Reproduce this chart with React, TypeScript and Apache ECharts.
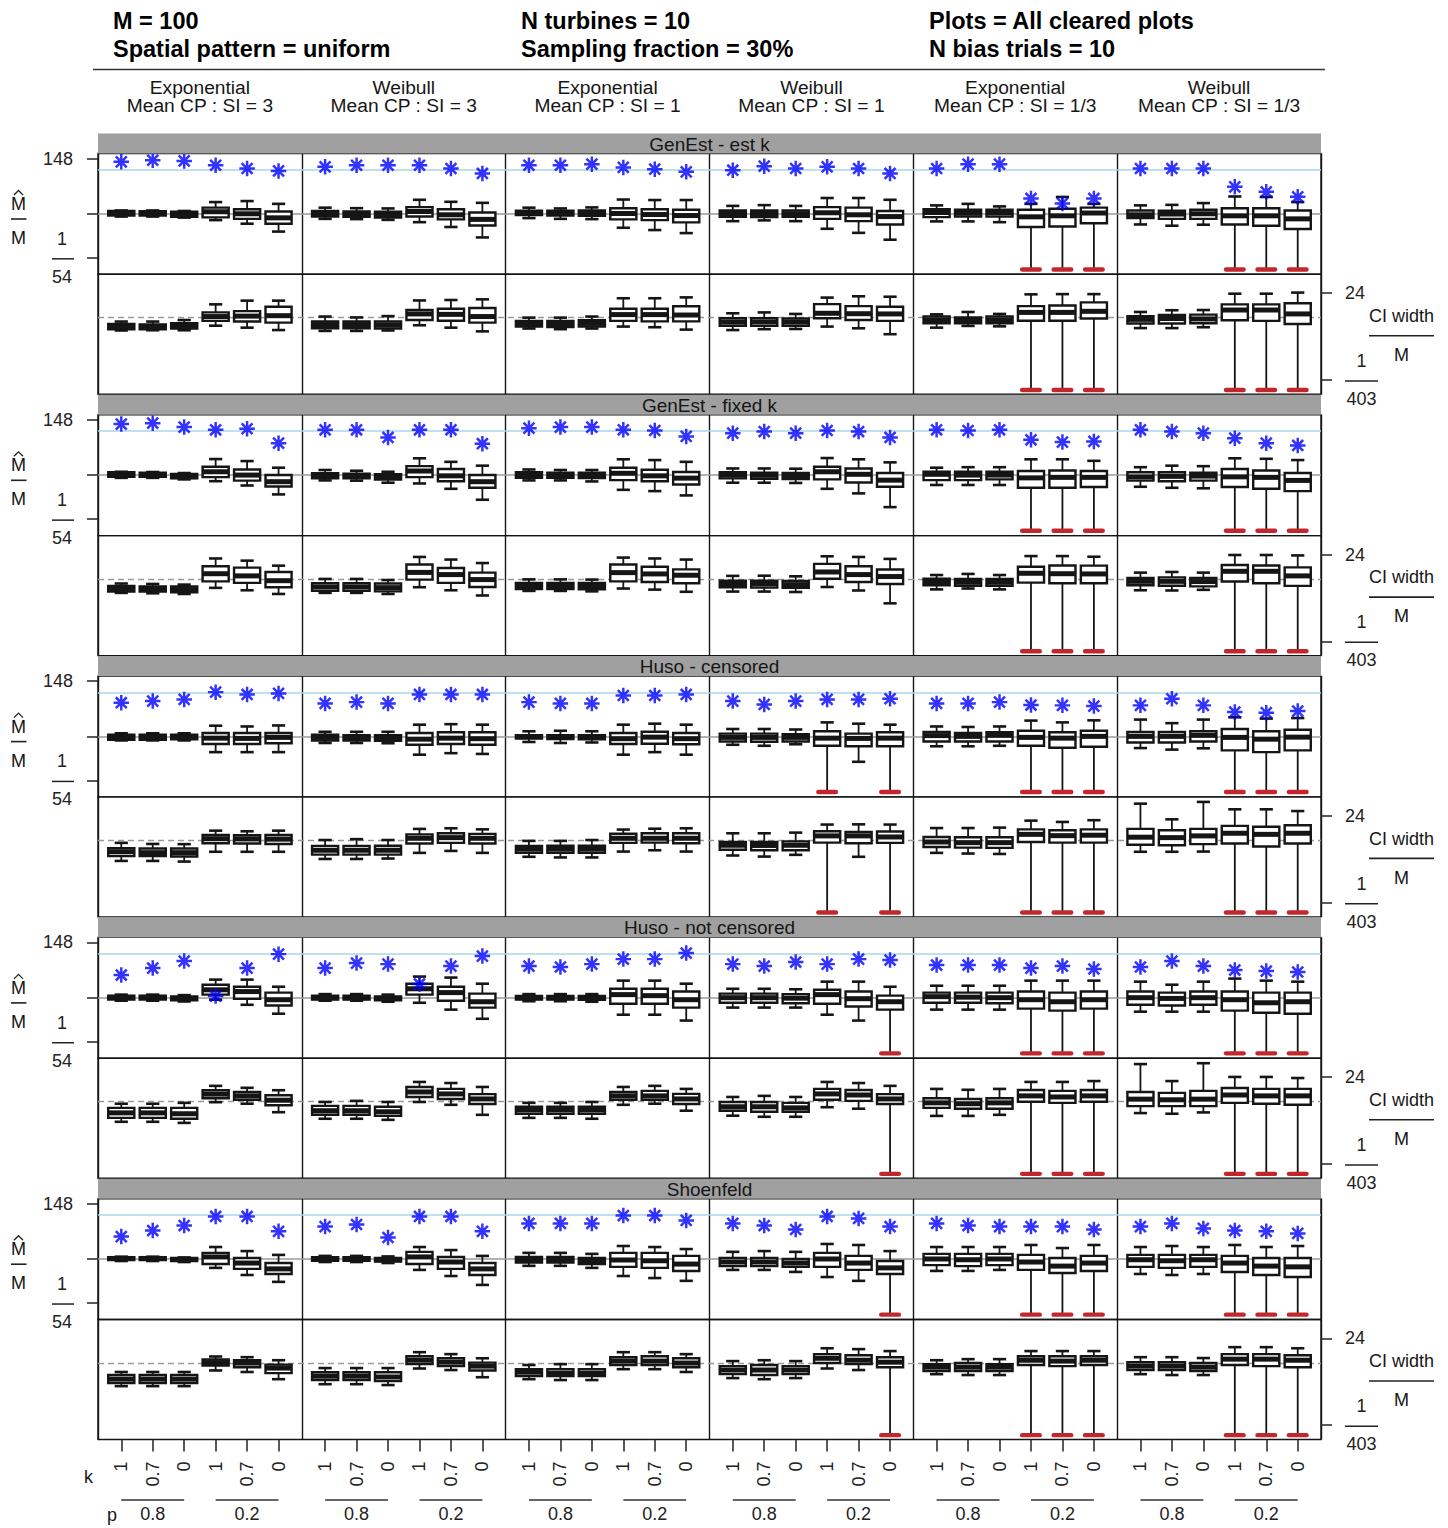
import React, { useEffect, useRef } from "react";
import * as echarts from "echarts";

const FONT = '"Liberation Sans", Arial, Helvetica, sans-serif';

// ---------- texts ----------
const headerLines = [
  ["M = 100", "Spatial pattern = uniform"],
  ["N turbines = 10", "Sampling fraction = 30%"],
  ["Plots = All cleared plots", "N bias trials = 10"],
];
const methods = ["GenEst - est k", "GenEst - fixed k", "Huso - censored", "Huso - not censored", "Shoenfeld"];
const distributions = ["Exponential", "Weibull", "Exponential", "Weibull", "Exponential", "Weibull"];
const meanCpSi = ["3", "3", "1", "1", "1/3", "1/3"];
const kValues = ["1", "0.7", "0"];
const pValues = ["0.8", "0.2"];

// ---------- axis ticks ----------
const mhatTickHigh = 148;
const mhatTickLowDen = 54;
const ciTickHigh = 24;
const ciTickLowDen = 403;
const coverageTarget = 0.9;
const ciReferenceLog = 0.26;

// ---------- data: boxes [low, q1, median, q3, high] in log10 units; null low = estimate of 0 ----------
const mhatEstK = [
  [[-0.11,-0.07,0.03,0.11,0.13],[-0.11,-0.07,0.02,0.10,0.13],[-0.15,-0.12,-0.03,0.08,0.11],[-0.25,-0.14,0.08,0.24,0.46],[-0.39,-0.20,0,0.18,0.50],[-0.70,-0.39,-0.16,0.09,0.39]],
  [[-0.20,-0.11,0,0.11,0.24],[-0.21,-0.12,-0.01,0.09,0.22],[-0.24,-0.15,-0.04,0.08,0.21],[-0.33,-0.11,0.09,0.26,0.55],[-0.52,-0.22,-0.04,0.18,0.47],[-0.93,-0.46,-0.22,0.05,0.43]],
  [[-0.17,-0.05,0.04,0.12,0.24],[-0.20,-0.07,0.04,0.12,0.21],[-0.21,-0.08,0.04,0.13,0.25],[-0.55,-0.22,0.01,0.22,0.56],[-0.64,-0.25,-0.03,0.18,0.54],[-0.76,-0.34,-0.07,0.16,0.54]],
  [[-0.29,-0.12,0.01,0.13,0.31],[-0.26,-0.13,0.01,0.13,0.34],[-0.29,-0.12,0,0.13,0.31],[-0.59,-0.20,0.04,0.26,0.62],[-0.75,-0.29,-0.04,0.24,0.62],[-1.02,-0.42,-0.11,0.11,0.55]],
  [[-0.30,-0.13,0.05,0.18,0.33],[-0.30,-0.11,0.03,0.16,0.39],[-0.33,-0.11,0.05,0.16,0.29],[null,-0.52,-0.12,0.16,0.39],[null,-0.50,-0.08,0.20,0.66],[null,-0.37,0.03,0.24,0.39]],
  [[-0.42,-0.17,-0.04,0.13,0.33],[-0.47,-0.20,-0.01,0.12,0.35],[-0.43,-0.20,0,0.16,0.42],[null,-0.42,-0.08,0.22,0.68],[null,-0.47,-0.08,0.22,0.66],[null,-0.60,-0.20,0.13,0.46]],
];
const ciEstK = [
  [[-0.33,-0.27,-0.15,-0.03,0.08],[-0.32,-0.27,-0.17,-0.05,0.08],[-0.32,-0.24,-0.12,0,0.15],[-0.11,0.11,0.31,0.50,0.87],[-0.20,0.08,0.33,0.56,1.04],[-0.31,0.03,0.35,0.76,1.04]],
  [[-0.35,-0.23,-0.06,0.08,0.31],[-0.35,-0.23,-0.06,0.08,0.27],[-0.33,-0.24,-0.08,0.08,0.33],[-0.09,0.15,0.43,0.61,1.05],[-0.20,0.12,0.41,0.67,1.07],[-0.37,0.03,0.31,0.70,1.10]],
  [[-0.24,-0.15,-0.01,0.11,0.26],[-0.27,-0.17,-0.01,0.11,0.26],[-0.24,-0.15,0,0.14,0.31],[-0.15,0.11,0.40,0.67,1.15],[-0.18,0.09,0.40,0.67,1.15],[-0.29,0.09,0.38,0.78,1.19]],
  [[-0.31,-0.11,0.06,0.23,0.46],[-0.27,-0.12,0.06,0.23,0.50],[-0.26,-0.11,0.06,0.22,0.43],[-0.15,0.23,0.46,0.88,1.18],[-0.23,0.15,0.44,0.79,1.24],[-0.50,0.11,0.43,0.76,1.22]],
  [[-0.20,0,0.15,0.31,0.41],[-0.12,0,0.14,0.27,0.52],[-0.14,0,0.15,0.31,0.43],[null,0.12,0.50,0.79,1.33],[null,0.12,0.50,0.82,1.34],[null,0.22,0.55,0.96,1.34]],
  [[-0.22,-0.01,0.18,0.33,0.52],[-0.22,-0.01,0.22,0.38,0.60],[-0.18,0,0.20,0.40,0.61],[null,0.14,0.61,0.87,1.36],[null,0.11,0.61,0.87,1.36],[null,-0.03,0.43,0.92,1.41]],
];
const covEstK = [
  [0.968,0.982,0.976,0.939,0.911,0.890],[0.925,0.939,0.939,0.939,0.911,0.868],[0.939,0.939,0.948,0.920,0.905,0.882],
  [0.896,0.931,0.911,0.925,0.911,0.868],[0.911,0.948,0.948,0.653,0.610,0.653],[0.911,0.911,0.911,0.753,0.710,0.667],
];

const mhatFixK = [
  [[-0.11,-0.07,0.03,0.11,0.13],[-0.11,-0.07,0.02,0.09,0.12],[-0.17,-0.13,-0.06,0.04,0.08],[-0.24,-0.08,0.13,0.33,0.63],[-0.41,-0.22,0,0.22,0.55],[-0.76,-0.45,-0.26,0,0.29]],
  [[-0.21,-0.13,-0.03,0.07,0.20],[-0.22,-0.13,-0.04,0.05,0.17],[-0.30,-0.18,-0.09,0.03,0.13],[-0.33,-0.08,0.16,0.35,0.66],[-0.54,-0.24,-0.03,0.24,0.52],[-0.97,-0.50,-0.26,0,0.37]],
  [[-0.21,-0.11,0,0.11,0.22],[-0.21,-0.11,0,0.09,0.20],[-0.25,-0.12,-0.01,0.09,0.20],[-0.58,-0.20,0.07,0.29,0.62],[-0.63,-0.24,-0.03,0.21,0.59],[-0.80,-0.37,-0.12,0.12,0.52]],
  [[-0.30,-0.13,0,0.11,0.26],[-0.30,-0.15,-0.01,0.09,0.26],[-0.31,-0.16,-0.03,0.08,0.25],[-0.54,-0.17,0.13,0.33,0.67],[-0.72,-0.29,0.03,0.26,0.62],[-1.26,-0.46,-0.20,0.08,0.50]],
  [[-0.39,-0.20,0.03,0.13,0.29],[-0.39,-0.20,0,0.13,0.31],[-0.39,-0.17,0,0.13,0.31],[null,-0.50,-0.11,0.16,0.62],[null,-0.50,-0.09,0.18,0.62],[null,-0.47,-0.09,0.16,0.56]],
  [[-0.46,-0.22,-0.07,0.11,0.31],[-0.50,-0.24,-0.05,0.11,0.37],[-0.52,-0.22,-0.04,0.09,0.35],[null,-0.47,-0.07,0.24,0.66],[null,-0.54,-0.09,0.18,0.64],[null,-0.63,-0.21,0.08,0.59]],
];
const ciFixK = [
  [[-0.38,-0.32,-0.20,-0.06,0.05],[-0.40,-0.32,-0.20,-0.08,0.03],[-0.43,-0.35,-0.23,-0.09,0],[-0.15,0.15,0.50,0.84,1.20],[-0.26,0.08,0.40,0.78,1.10],[-0.43,-0.12,0.18,0.58,0.87]],
  [[-0.38,-0.29,-0.11,0.06,0.26],[-0.38,-0.29,-0.11,0.06,0.26],[-0.43,-0.31,-0.14,0.05,0.21],[-0.12,0.23,0.56,0.92,1.27],[-0.26,0.08,0.46,0.76,1.15],[-0.50,-0.11,0.23,0.55,0.99]],
  [[-0.29,-0.20,-0.06,0.08,0.24],[-0.29,-0.20,-0.06,0.08,0.24],[-0.31,-0.21,-0.08,0.08,0.23],[-0.18,0.15,0.55,0.92,1.24],[-0.23,0.12,0.49,0.82,1.20],[-0.33,0.06,0.43,0.70,1.15]],
  [[-0.32,-0.12,0.03,0.18,0.40],[-0.32,-0.14,0.03,0.18,0.41],[-0.34,-0.15,0,0.17,0.38],[-0.11,0.27,0.58,0.95,1.30],[-0.27,0.12,0.46,0.84,1.27],[-0.86,0.03,0.37,0.69,1.18]],
  [[-0.22,-0.03,0.12,0.27,0.44],[-0.18,-0.05,0.11,0.26,0.49],[-0.22,-0.05,0.11,0.26,0.44],[null,0.09,0.52,0.82,1.31],[null,0.06,0.50,0.88,1.31],[null,0.06,0.49,0.87,1.28]],
  [[-0.26,-0.03,0.15,0.31,0.55],[-0.27,-0.05,0.15,0.33,0.58],[-0.24,-0.08,0.14,0.31,0.55],[null,0.14,0.61,0.90,1.36],[null,0.06,0.61,0.88,1.36],[null,-0.06,0.40,0.79,1.34]],
];
const covFixK = [
  [0.960,0.968,0.934,0.911,0.920,0.796],[0.911,0.911,0.845,0.911,0.911,0.791],[0.925,0.934,0.934,0.911,0.905,0.854],
  [0.882,0.896,0.882,0.905,0.896,0.845],[0.911,0.905,0.911,0.825,0.805,0.811],[0.911,0.896,0.882,0.839,0.796,0.776],
];

const mhatCens = [
  [[-0.16,-0.13,-0.04,0.07,0.12],[-0.16,-0.13,-0.04,0.07,0.12],[-0.16,-0.12,-0.03,0.07,0.12],[-0.62,-0.30,-0.07,0.13,0.42],[-0.62,-0.30,-0.08,0.13,0.39],[-0.62,-0.27,-0.04,0.13,0.43]],
  [[-0.26,-0.16,-0.04,0.07,0.18],[-0.26,-0.16,-0.05,0.05,0.18],[-0.27,-0.17,-0.05,0.05,0.18],[-0.72,-0.33,-0.11,0.13,0.46],[-0.66,-0.30,-0.07,0.16,0.48],[-0.69,-0.33,-0.09,0.16,0.46]],
  [[-0.22,-0.09,-0.01,0.05,0.20],[-0.26,-0.11,-0.03,0.05,0.22],[-0.24,-0.12,-0.03,0.05,0.20],[-0.72,-0.30,-0.09,0.13,0.46],[-0.62,-0.29,-0.03,0.18,0.50],[-0.72,-0.31,-0.09,0.13,0.46]],
  [[-0.33,-0.20,-0.04,0.11,0.29],[-0.37,-0.21,-0.04,0.11,0.29],[-0.31,-0.20,-0.04,0.09,0.27],[null,-0.37,-0.07,0.20,0.55],[-1.00,-0.39,-0.08,0.11,0.50],[null,-0.39,-0.07,0.16,0.46]],
  [[-0.39,-0.20,0.03,0.17,0.39],[-0.39,-0.20,0,0.13,0.37],[-0.37,-0.20,0.04,0.16,0.39],[null,-0.37,-0.04,0.22,0.62],[null,-0.45,-0.07,0.16,0.55],[null,-0.41,0,0.22,0.63]],
  [[-0.46,-0.24,0,0.17,0.66],[-0.52,-0.24,0,0.17,0.52],[-0.47,-0.20,0.04,0.20,0.66],[null,-0.55,-0.04,0.29,0.75],[null,-0.62,-0.11,0.20,0.70],[null,-0.55,-0.03,0.26,0.72]],
];
const ciCens = [
  [[-0.69,-0.47,-0.27,-0.11,0.14],[-0.69,-0.47,-0.31,-0.12,0.09],[-0.72,-0.49,-0.31,-0.12,0.08],[-0.27,0.12,0.33,0.50,0.70],[-0.27,0.11,0.32,0.49,0.67],[-0.27,0.09,0.31,0.50,0.70]],
  [[-0.60,-0.40,-0.20,0,0.27],[-0.60,-0.40,-0.20,0,0.31],[-0.58,-0.40,-0.20,0.01,0.27],[-0.32,0.11,0.35,0.53,0.78],[-0.23,0.14,0.38,0.58,0.81],[-0.32,0.11,0.35,0.55,0.76]],
  [[-0.50,-0.32,-0.15,0,0.23],[-0.53,-0.32,-0.15,0.01,0.23],[-0.53,-0.32,-0.15,0.01,0.27],[-0.26,0.14,0.35,0.56,0.75],[-0.20,0.15,0.35,0.58,0.79],[-0.26,0.12,0.35,0.58,0.81]],
  [[-0.44,-0.18,0.03,0.18,0.58],[-0.49,-0.20,0.02,0.18,0.58],[-0.41,-0.20,0.03,0.21,0.61],[null,0.15,0.46,0.67,0.98],[-0.50,0.12,0.46,0.64,0.99],[null,0.14,0.41,0.66,0.98]],
  [[-0.32,-0.05,0.18,0.41,0.82],[-0.35,-0.08,0.15,0.40,0.82],[-0.37,-0.09,0.15,0.40,0.84],[null,0.18,0.53,0.76,1.16],[null,0.15,0.47,0.72,1.10],[null,0.15,0.49,0.76,1.18]],
  [[-0.27,0.05,0.40,0.78,1.94],[-0.27,0.03,0.38,0.72,1.22],[-0.26,0.08,0.46,0.78,2.02],[null,0.11,0.58,0.92,1.68],[null,-0.03,0.53,0.88,1.68],[null,0.11,0.58,0.95,1.60]],
];
const covCens = [
  [0.811,0.825,0.839,0.902,0.882,0.891],[0.805,0.816,0.805,0.882,0.882,0.882],[0.816,0.805,0.805,0.873,0.873,0.882],
  [0.825,0.796,0.825,0.839,0.839,0.845],[0.805,0.805,0.816,0.791,0.788,0.782],[0.788,0.845,0.788,0.730,0.725,0.739],
];

const mhatNoCens = [
  [[-0.12,-0.07,0.01,0.08,0.12],[-0.12,-0.07,0.01,0.08,0.12],[-0.15,-0.10,-0.03,0.05,0.10],[-0.08,0.12,0.31,0.51,0.71],[-0.28,-0.04,0.24,0.43,0.71],[-0.63,-0.31,-0.08,0.20,0.43]],
  [[-0.12,-0.07,0,0.08,0.14],[-0.12,-0.07,0,0.08,0.14],[-0.16,-0.10,-0.03,0.05,0.12],[-0.20,0.12,0.35,0.55,0.83],[-0.47,-0.12,0.20,0.43,0.79],[-0.83,-0.39,-0.16,0.16,0.55]],
  [[-0.14,-0.07,0,0.07,0.14],[-0.14,-0.07,0,0.07,0.14],[-0.16,-0.08,-0.01,0.07,0.14],[-0.67,-0.24,0.12,0.35,0.67],[-0.67,-0.24,0.08,0.35,0.67],[-0.90,-0.39,-0.08,0.24,0.55]],
  [[-0.39,-0.20,0,0.16,0.35],[-0.39,-0.20,0,0.16,0.35],[-0.39,-0.22,-0.02,0.14,0.33],[-0.67,-0.24,0.12,0.31,0.63],[-0.90,-0.35,-0.04,0.24,0.63],[null,-0.47,-0.16,0.08,0.43]],
  [[-0.47,-0.20,0.04,0.20,0.47],[-0.47,-0.20,0.02,0.20,0.47],[-0.47,-0.22,0,0.20,0.47],[null,-0.43,-0.08,0.24,0.67],[null,-0.51,-0.16,0.20,0.67],[null,-0.43,-0.08,0.24,0.67]],
  [[-0.55,-0.28,0,0.24,0.63],[-0.55,-0.31,-0.03,0.20,0.51],[-0.55,-0.28,0,0.24,0.63],[null,-0.51,-0.08,0.24,0.75],[null,-0.59,-0.20,0.20,0.67],[null,-0.63,-0.16,0.20,0.63]],
];
const ciNoCens = [
  [[-0.67,-0.49,-0.26,-0.03,0.16],[-0.67,-0.49,-0.26,-0.03,0.16],[-0.72,-0.53,-0.30,-0.03,0.20],[0.23,0.41,0.60,0.78,0.98],[0.16,0.34,0.52,0.70,0.89],[-0.23,0.09,0.32,0.55,0.78]],
  [[-0.53,-0.35,-0.16,0.06,0.24],[-0.53,-0.35,-0.16,0.06,0.29],[-0.58,-0.40,-0.21,0.02,0.24],[0.24,0.47,0.70,0.93,1.16],[0.11,0.38,0.61,0.84,1.11],[-0.35,0.15,0.38,0.60,0.93]],
  [[-0.49,-0.30,-0.12,0.02,0.20],[-0.49,-0.30,-0.12,0.02,0.20],[-0.53,-0.30,-0.12,0.02,0.24],[0.11,0.34,0.52,0.70,0.93],[0.16,0.34,0.52,0.75,0.98],[-0.16,0.15,0.38,0.61,0.84]],
  [[-0.39,-0.16,0.02,0.24,0.47],[-0.44,-0.21,0.02,0.24,0.52],[-0.44,-0.21,-0.03,0.20,0.47],[0,0.34,0.61,0.84,1.16],[-0.07,0.29,0.56,0.79,1.11],[null,0.15,0.38,0.60,0.98]],
  [[-0.40,-0.03,0.20,0.41,0.84],[-0.40,-0.07,0.16,0.38,0.80],[-0.35,-0.07,0.20,0.41,0.84],[null,0.25,0.52,0.79,1.16],[null,0.20,0.47,0.75,1.16],[null,0.25,0.52,0.79,1.20]],
  [[-0.27,0.05,0.37,0.70,1.98],[-0.30,0.05,0.34,0.66,1.20],[-0.24,0.05,0.37,0.75,2.02],[null,0.20,0.56,0.88,1.39],[null,0.16,0.52,0.84,1.39],[null,0.11,0.52,0.84,1.34]],
];
const covNoCens = [
  [0.716,0.776,0.836,0.535,0.776,0.896],[0.776,0.819,0.810,0.639,0.793,0.879],[0.793,0.785,0.810,0.853,0.853,0.905],
  [0.810,0.793,0.828,0.810,0.853,0.845],[0.802,0.802,0.802,0.776,0.793,0.768],[0.785,0.836,0.793,0.759,0.750,0.742],
];

const mhatShoen = [
  [[-0.08,-0.04,0.02,0.07,0.09],[-0.08,-0.04,0.02,0.07,0.09],[-0.12,-0.08,-0.02,0.04,0.06],[-0.35,-0.20,0.08,0.24,0.47],[-0.63,-0.39,-0.16,0.04,0.31],[-0.90,-0.59,-0.39,-0.16,0.16]],
  [[-0.12,-0.07,0,0.07,0.12],[-0.12,-0.07,0,0.07,0.12],[-0.16,-0.10,-0.03,0.04,0.10],[-0.43,-0.20,0.08,0.28,0.47],[-0.67,-0.39,-0.12,0.08,0.35],[-1.02,-0.63,-0.39,-0.16,0.12]],
  [[-0.27,-0.14,-0.03,0.08,0.24],[-0.27,-0.14,-0.03,0.08,0.24],[-0.35,-0.20,-0.07,0.04,0.20],[-0.67,-0.31,-0.04,0.24,0.51],[-0.75,-0.35,-0.07,0.24,0.47],[-0.86,-0.47,-0.20,0.12,0.39]],
  [[-0.43,-0.28,-0.12,0.04,0.28],[-0.43,-0.28,-0.12,0.04,0.31],[-0.51,-0.31,-0.16,0,0.28],[-0.71,-0.31,0,0.24,0.59],[-0.86,-0.43,-0.16,0.12,0.55],[null,-0.59,-0.35,-0.08,0.31]],
  [[-0.47,-0.24,0,0.20,0.47],[-0.47,-0.28,-0.03,0.20,0.47],[-0.43,-0.24,0,0.20,0.47],[null,-0.43,-0.12,0.16,0.55],[null,-0.55,-0.28,0.04,0.43],[null,-0.47,-0.16,0.12,0.55]],
  [[-0.59,-0.31,-0.03,0.16,0.47],[-0.63,-0.35,-0.07,0.16,0.51],[-0.59,-0.31,-0.03,0.16,0.47],[null,-0.51,-0.16,0.12,0.55],[null,-0.63,-0.28,0.04,0.47],[null,-0.71,-0.31,0.04,0.51]],
];
const ciShoen = [
  [[-0.81,-0.67,-0.49,-0.30,-0.16],[-0.81,-0.67,-0.49,-0.30,-0.16],[-0.81,-0.67,-0.49,-0.30,-0.16],[-0.09,0.14,0.27,0.41,0.55],[-0.16,0.06,0.25,0.38,0.52],[-0.49,-0.21,0.02,0.18,0.38]],
  [[-0.72,-0.53,-0.35,-0.17,0.02],[-0.72,-0.53,-0.35,-0.17,0.02],[-0.76,-0.58,-0.39,-0.17,0.02],[0,0.20,0.38,0.56,0.75],[-0.07,0.11,0.29,0.47,0.66],[-0.40,-0.09,0.11,0.27,0.47]],
  [[-0.49,-0.35,-0.17,-0.03,0.16],[-0.53,-0.35,-0.21,-0.03,0.20],[-0.53,-0.35,-0.21,-0.03,0.20],[-0.03,0.16,0.34,0.52,0.75],[-0.03,0.16,0.34,0.56,0.75],[-0.16,0.06,0.25,0.47,0.66]],
  [[-0.44,-0.26,-0.07,0.11,0.34],[-0.49,-0.30,-0.07,0.16,0.38],[-0.44,-0.26,-0.07,0.11,0.34],[0,0.25,0.47,0.66,0.93],[-0.07,0.20,0.38,0.61,0.89],[null,0.06,0.29,0.52,0.80]],
  [[-0.26,-0.12,0.06,0.20,0.38],[-0.30,-0.12,0.06,0.25,0.43],[-0.30,-0.12,0.06,0.20,0.43],[null,0.16,0.38,0.56,0.80],[null,0.11,0.34,0.56,0.80],[null,0.16,0.38,0.56,0.80]],
  [[-0.26,-0.07,0.11,0.29,0.52],[-0.30,-0.07,0.11,0.29,0.52],[-0.30,-0.12,0.06,0.25,0.48],[null,0.16,0.43,0.66,0.98],[null,0.11,0.43,0.66,0.98],[null,0.06,0.38,0.61,0.93]],
];
const covShoen = [
  [0.714,0.766,0.809,0.887,0.887,0.759],[0.800,0.818,0.706,0.887,0.887,0.759],[0.827,0.827,0.827,0.895,0.895,0.853],
  [0.827,0.809,0.775,0.887,0.870,0.800],[0.827,0.809,0.800,0.800,0.800,0.775],[0.800,0.827,0.784,0.766,0.759,0.741],
];

// ---------- layout ----------
const GRID_LEFT = 98;
const GRID_W = 1223;
const STRIP_TOP0 = 133.5;
const ROW_PERIOD = 261.3;
const STRIP_H = 20;
const TOP_H = 120.8;
const BOT_H = 120;
const X_MIN = 0.26;
const COL_SPAN = 6.48;
const X_MAX = X_MIN + 6 * COL_SPAN;
const TOP_MIN = -2.38;
const TOP_MAX = 2.37;
const BOT_MIN = -3.26;
const BOT_MAX = 2.25;
const ZERO_TOP = -2.19;
const ZERO_BOT = -3.06;
const BOX_W = 0.83;
const CAP_W = 0.42;
const RED_W = 0.7;
const INK = "#151515";
const STAR_PATH =
  "path://M8.4 0H11.6V20H8.4Z M0 8.4H20V11.6H0Z M1.8 4.1L4.1 1.8L18.2 15.9L15.9 18.2Z M15.9 1.8L18.2 4.1L4.1 18.2L1.8 15.9Z";

const xPos = (c: number, i: number) => c * COL_SPAN + 1 + i;
const colOf = (v: number) => Math.floor((v - X_MIN) / COL_SPAN);

const renderBox = (params: any, api: any) => {
  const x = api.value(0);
  const pLo = api.coord([x, api.value(1)]);
  const pQ1 = api.coord([x, api.value(2)]);
  const pMed = api.coord([x, api.value(3)]);
  const pQ3 = api.coord([x, api.value(4)]);
  const pHi = api.coord([x, api.value(5)]);
  const zero = api.value(6) === 1;
  const bw = api.size([BOX_W, 0])[0];
  const cw = api.size([CAP_W, 0])[0];
  const rw = api.size([RED_W, 0])[0];
  const cx = pMed[0];
  const children: any[] = [
    { type: "line", shape: { x1: cx, y1: pHi[1], x2: cx, y2: pQ3[1] }, style: { stroke: INK, lineWidth: 1.8 } },
    { type: "line", shape: { x1: cx, y1: pQ1[1], x2: cx, y2: pLo[1] }, style: { stroke: INK, lineWidth: 1.8 } },
    { type: "line", shape: { x1: cx - cw / 2, y1: pHi[1], x2: cx + cw / 2, y2: pHi[1] }, style: { stroke: INK, lineWidth: 2.6 } },
  ];
  if (zero) {
    children.push({ type: "rect", shape: { x: cx - rw / 2, y: pLo[1] - 2.2, width: rw, height: 4.4, r: 2.2 }, style: { fill: "#c1272d" } });
  } else {
    children.push({ type: "line", shape: { x1: cx - cw / 2, y1: pLo[1], x2: cx + cw / 2, y2: pLo[1] }, style: { stroke: INK, lineWidth: 2.6 } });
  }
  children.push({
    type: "rect",
    shape: { x: cx - bw / 2, y: pQ3[1], width: bw, height: Math.max(pQ1[1] - pQ3[1], 1) },
    style: { fill: "#ffffff", stroke: INK, lineWidth: 2.4 },
  });
  children.push({ type: "line", shape: { x1: cx - bw / 2, y1: pMed[1], x2: cx + bw / 2, y2: pMed[1] }, style: { stroke: INK, lineWidth: 5 } });
  return { type: "group", children };
};

const rows = [
  { name: methods[0], mhat: mhatEstK, ci: ciEstK, cov: covEstK },
  { name: methods[1], mhat: mhatFixK, ci: ciFixK, cov: covFixK },
  { name: methods[2], mhat: mhatCens, ci: ciCens, cov: covCens },
  { name: methods[3], mhat: mhatNoCens, ci: ciNoCens, cov: covNoCens },
  { name: methods[4], mhat: mhatShoen, ci: ciShoen, cov: covShoen },
];

const boxItems = (panel: (number | null)[][][], zeroPos: number) =>
  panel.flatMap((col, c) =>
    col.map((b, i) => {
      const [lo, q1, med, q3, hi] = b;
      return [xPos(c, i), lo === null ? zeroPos : lo, q1, med, q3, hi, lo === null ? 1 : 0];
    })
  );

const LOG_MH_HIGH = Math.log10(mhatTickHigh);
const LOG_MH_LOW = -Math.log10(mhatTickLowDen);
const LOG_CI_HIGH = Math.log10(ciTickHigh);
const LOG_CI_LOW = -Math.log10(ciTickLowDen);

const labelBase = { fontSize: 18, color: "#222", fontFamily: FONT, lineHeight: 19 };
const noLine = { show: false, onZero: false };

function buildOption() {
  const grid: any[] = [];
  const dataX: any[] = [];
  const colX: any[] = [];
  const mainY: any[] = [];
  const covY: any[] = [];
  const series: any[] = [];
  const allX = [0, 1, 2, 3, 4, 5].flatMap((c) => [0, 1, 2, 3, 4, 5].map((i) => xPos(c, i)));
  const pCenters = [0, 1, 2, 3, 4, 5].flatMap((c) => [xPos(c, 1), xPos(c, 4)]);

  rows.forEach((row, r) => {
    const stripTop = STRIP_TOP0 + r * ROW_PERIOD;
    const topTop = stripTop + STRIP_H;
    const botTop = topTop + TOP_H;
    [
      { top: topTop, height: TOP_H },
      { top: botTop, height: BOT_H },
    ].forEach((gp) =>
      grid.push({
        left: GRID_LEFT, width: GRID_W, top: gp.top, height: gp.height,
        show: true, borderColor: INK, borderWidth: 1.4, containLabel: false, outerBoundsMode: "none",
      })
    );
  });

  for (let g = 0; g < 10; g++) {
    const last = g === 9;
    dataX.push({
      type: "value", gridIndex: g, min: X_MIN, max: X_MAX, position: "bottom", show: last,
      axisLine: noLine, splitLine: { show: false },
      axisTick: { show: last, customValues: allX, length: 12, lineStyle: { color: "#222", width: 1.5 } },
      axisLabel: {
        show: last, customValues: allX, rotate: 90, margin: 22, fontSize: 18, color: "#222", fontFamily: FONT,
        formatter: (v: number) => kValues[Math.round(v - 1 - colOf(v) * COL_SPAN) % 3],
      },
    });
    colX.push({
      type: "value", gridIndex: g, min: 0, max: 6, interval: 1, position: "top",
      axisLine: noLine, axisTick: { show: false }, axisLabel: { show: false },
      splitLine: { show: true, lineStyle: { color: INK, width: 1.4 } },
    });
    const isTop = g % 2 === 0;
    mainY.push(
      isTop
        ? {
            type: "value", gridIndex: g, min: TOP_MIN, max: TOP_MAX, position: "left",
            axisLine: noLine, splitLine: { show: false },
            axisTick: { show: true, customValues: [LOG_MH_HIGH, 0, LOG_MH_LOW], length: 11, lineStyle: { color: "#222", width: 1.5 } },
            axisLabel: {
              show: true, customValues: [LOG_MH_HIGH, LOG_MH_LOW], margin: 25, ...labelBase,
              formatter: (v: number) => (v > 0 ? `{p|${mhatTickHigh}}` : `{f|1}\n{f| }\n{f|${mhatTickLowDen}}`),
              rich: { p: { ...labelBase }, f: { ...labelBase, width: 22, align: "center" } },
            },
          }
        : {
            type: "value", gridIndex: g, min: BOT_MIN, max: BOT_MAX, position: "right",
            axisLine: noLine, splitLine: { show: false },
            axisTick: { show: true, customValues: [LOG_CI_HIGH, LOG_CI_LOW], length: 11, lineStyle: { color: "#222", width: 1.5 } },
            axisLabel: {
              show: true, customValues: [LOG_CI_HIGH, LOG_CI_LOW], margin: 24, ...labelBase,
              formatter: (v: number) => (v > 0 ? `{p|${ciTickHigh}}` : `{f|1}\n{f| }\n{f|${ciTickLowDen}}`),
              rich: { p: { ...labelBase }, f: { ...labelBase, width: 33, align: "center" } },
            },
          }
    );
  }
  for (let r = 0; r < 5; r++) {
    covY.push({ type: "value", gridIndex: 2 * r, min: 0, max: 1.04, show: false, axisLine: noLine });
  }

  rows.forEach((row, r) => {
    const gTop = 2 * r;
    const gBot = 2 * r + 1;
    series.push({
      type: "custom", xAxisIndex: gTop, yAxisIndex: gTop, renderItem: renderBox, clip: false, z: 3,
      encode: { x: 0, y: [1, 2, 3, 4, 5] },
      data: boxItems(row.mhat as any, ZERO_TOP),
      markLine: {
        silent: true, symbol: "none", z: 2, label: { show: false }, animation: false,
        lineStyle: { color: "#9a9a9a", width: 1.5, type: "solid" },
        data: [{ yAxis: 0 }],
      },
    });
    series.push({
      type: "scatter", xAxisIndex: gTop, yAxisIndex: 10 + r, symbol: STAR_PATH, symbolSize: 15.5, z: 5,
      itemStyle: { color: "#0000ff" },
      data: row.cov.flatMap((col, c) => col.map((v, i) => [xPos(c, i), v])),
      markLine: {
        silent: true, symbol: "none", z: 2, label: { show: false }, animation: false,
        lineStyle: { color: "#a9d6ea", width: 1.5, type: "solid" },
        data: [{ yAxis: coverageTarget }],
      },
    });
    series.push({
      type: "custom", xAxisIndex: gBot, yAxisIndex: gBot, renderItem: renderBox, clip: false, z: 3,
      encode: { x: 0, y: [1, 2, 3, 4, 5] },
      data: boxItems(row.ci as any, ZERO_BOT),
      markLine: {
        silent: true, symbol: "none", z: 2, label: { show: false }, animation: false,
        lineStyle: { color: "#9a9a9a", width: 1.3, type: [6, 4] },
        data: [{ yAxis: ciReferenceLog }],
      },
    });
  });

  const pAxis = {
    type: "value", gridIndex: 9, min: X_MIN, max: X_MAX, position: "bottom", offset: 56,
    axisLine: noLine, axisTick: { show: false }, splitLine: { show: false },
    axisLabel: {
      show: true, customValues: pCenters, margin: 9, fontSize: 18, color: "#222", fontFamily: FONT,
      formatter: (v: number) => pValues[Math.round(v - 1 - colOf(v) * COL_SPAN) >= 3 ? 1 : 0],
    },
  };

  return {
    animation: false,
    backgroundColor: "#ffffff",
    textStyle: { fontFamily: FONT },
    grid,
    xAxis: [...dataX, ...colX, pAxis],
    yAxis: [...mainY, ...covY],
    series,
  };
}

const txt = (x: number, y: number, text: string, size: number, opts: any = {}) => ({
  type: "text", x, y, z: 20, silent: true,
  style: {
    text, fill: opts.color || "#161616", fontSize: size, fontFamily: FONT,
    fontWeight: opts.bold ? "bold" : "normal",
    align: opts.align || "center", textAlign: opts.align || "center",
    verticalAlign: "middle", textVerticalAlign: "middle",
  },
});
const hline = (x1: number, x2: number, y: number, w = 1.5, color = "#222") => ({
  type: "line", z: 20, silent: true, shape: { x1, y1: y, x2, y2: y }, style: { stroke: color, lineWidth: w },
});

function buildGraphics(chart: any) {
  const g: any[] = [];
  const headerX = [113, 521, 929];
  headerLines.forEach((lines, i) =>
    lines.forEach((t, j) => g.push(txt(headerX[i], 20.5 + j * 28.5, t, 23.5, { bold: true, align: "left", color: "#000" })))
  );
  g.push(hline(93, 1325, 69.5, 1.6, "#333"));
  for (let c = 0; c < 6; c++) {
    const cx = chart.convertToPixel({ xAxisIndex: 0 }, c * COL_SPAN + 3.5);
    g.push(txt(cx, 87, distributions[c], 19.2));
    g.push(txt(cx, 105, `Mean CP : SI = ${meanCpSi[c]}`, 19.2));
  }
  rows.forEach((row, r) => {
    const stripTop = STRIP_TOP0 + r * ROW_PERIOD;
    const topTop = stripTop + STRIP_H;
    const botTop = topTop + TOP_H;
    g.push({ type: "rect", z: 15, silent: true, shape: { x: GRID_LEFT, y: stripTop, width: GRID_W, height: STRIP_H }, style: { fill: "#a0a0a0" } });
    g.push(txt(GRID_LEFT + GRID_W / 2, stripTop + 10.5, row.name, 19));
    // left title  M-hat / M
    g.push({
      type: "polyline", z: 20, silent: true,
      shape: { points: [[14, topTop + 41.5], [18.5, topTop + 37], [23, topTop + 41.5]] },
      style: { stroke: "#222", lineWidth: 1.3, fill: null },
    });
    g.push(txt(18.5, topTop + 50.5, "M", 18));
    g.push(hline(11, 26.5, topTop + 65.5, 1.6));
    g.push(txt(18.5, topTop + 84.5, "M", 18));
    // right title  CI width / M
    g.push(txt(1401.5, botTop + 41.7, "CI width", 18));
    g.push(hline(1369, 1434, botTop + 61.5, 1.6));
    g.push(txt(1401.5, botTop + 80.7, "M", 18));
    // fraction bars of tick labels
    const yLowTop = chart.convertToPixel({ yAxisIndex: 2 * r }, LOG_MH_LOW);
    g.push(hline(52, 74, yLowTop + 1, 1.5));
    const yLowBot = chart.convertToPixel({ yAxisIndex: 2 * r + 1 }, LOG_CI_LOW);
    g.push(hline(1345, 1378, yLowBot + 1, 1.5));
  });
  g.push(txt(88.5, 1477, "k", 18));
  g.push(txt(112, 1515, "p", 18));
  for (let c = 0; c < 6; c++) {
    for (let p = 0; p < 2; p++) {
      const x1 = chart.convertToPixel({ xAxisIndex: 9 }, xPos(c, p * 3));
      const x2 = chart.convertToPixel({ xAxisIndex: 9 }, xPos(c, p * 3 + 2));
      g.push(hline(x1, x2, 1500, 1.6, "#333"));
    }
  }
  return g;
}

export default function App() {
  const ref = useRef<HTMLDivElement>(null);
  useEffect(() => {
    if (!ref.current) return;
    const chart = echarts.init(ref.current, null, { renderer: "svg" });
    chart.setOption(buildOption() as any);
    chart.setOption({ graphic: buildGraphics(chart) } as any);
    return () => chart.dispose();
  }, []);
  return (
    <div
      ref={ref}
      style={{ position: "absolute", left: 0, top: 0, width: 1448, height: 1528, background: "#fff" }}
    />
  );
}
